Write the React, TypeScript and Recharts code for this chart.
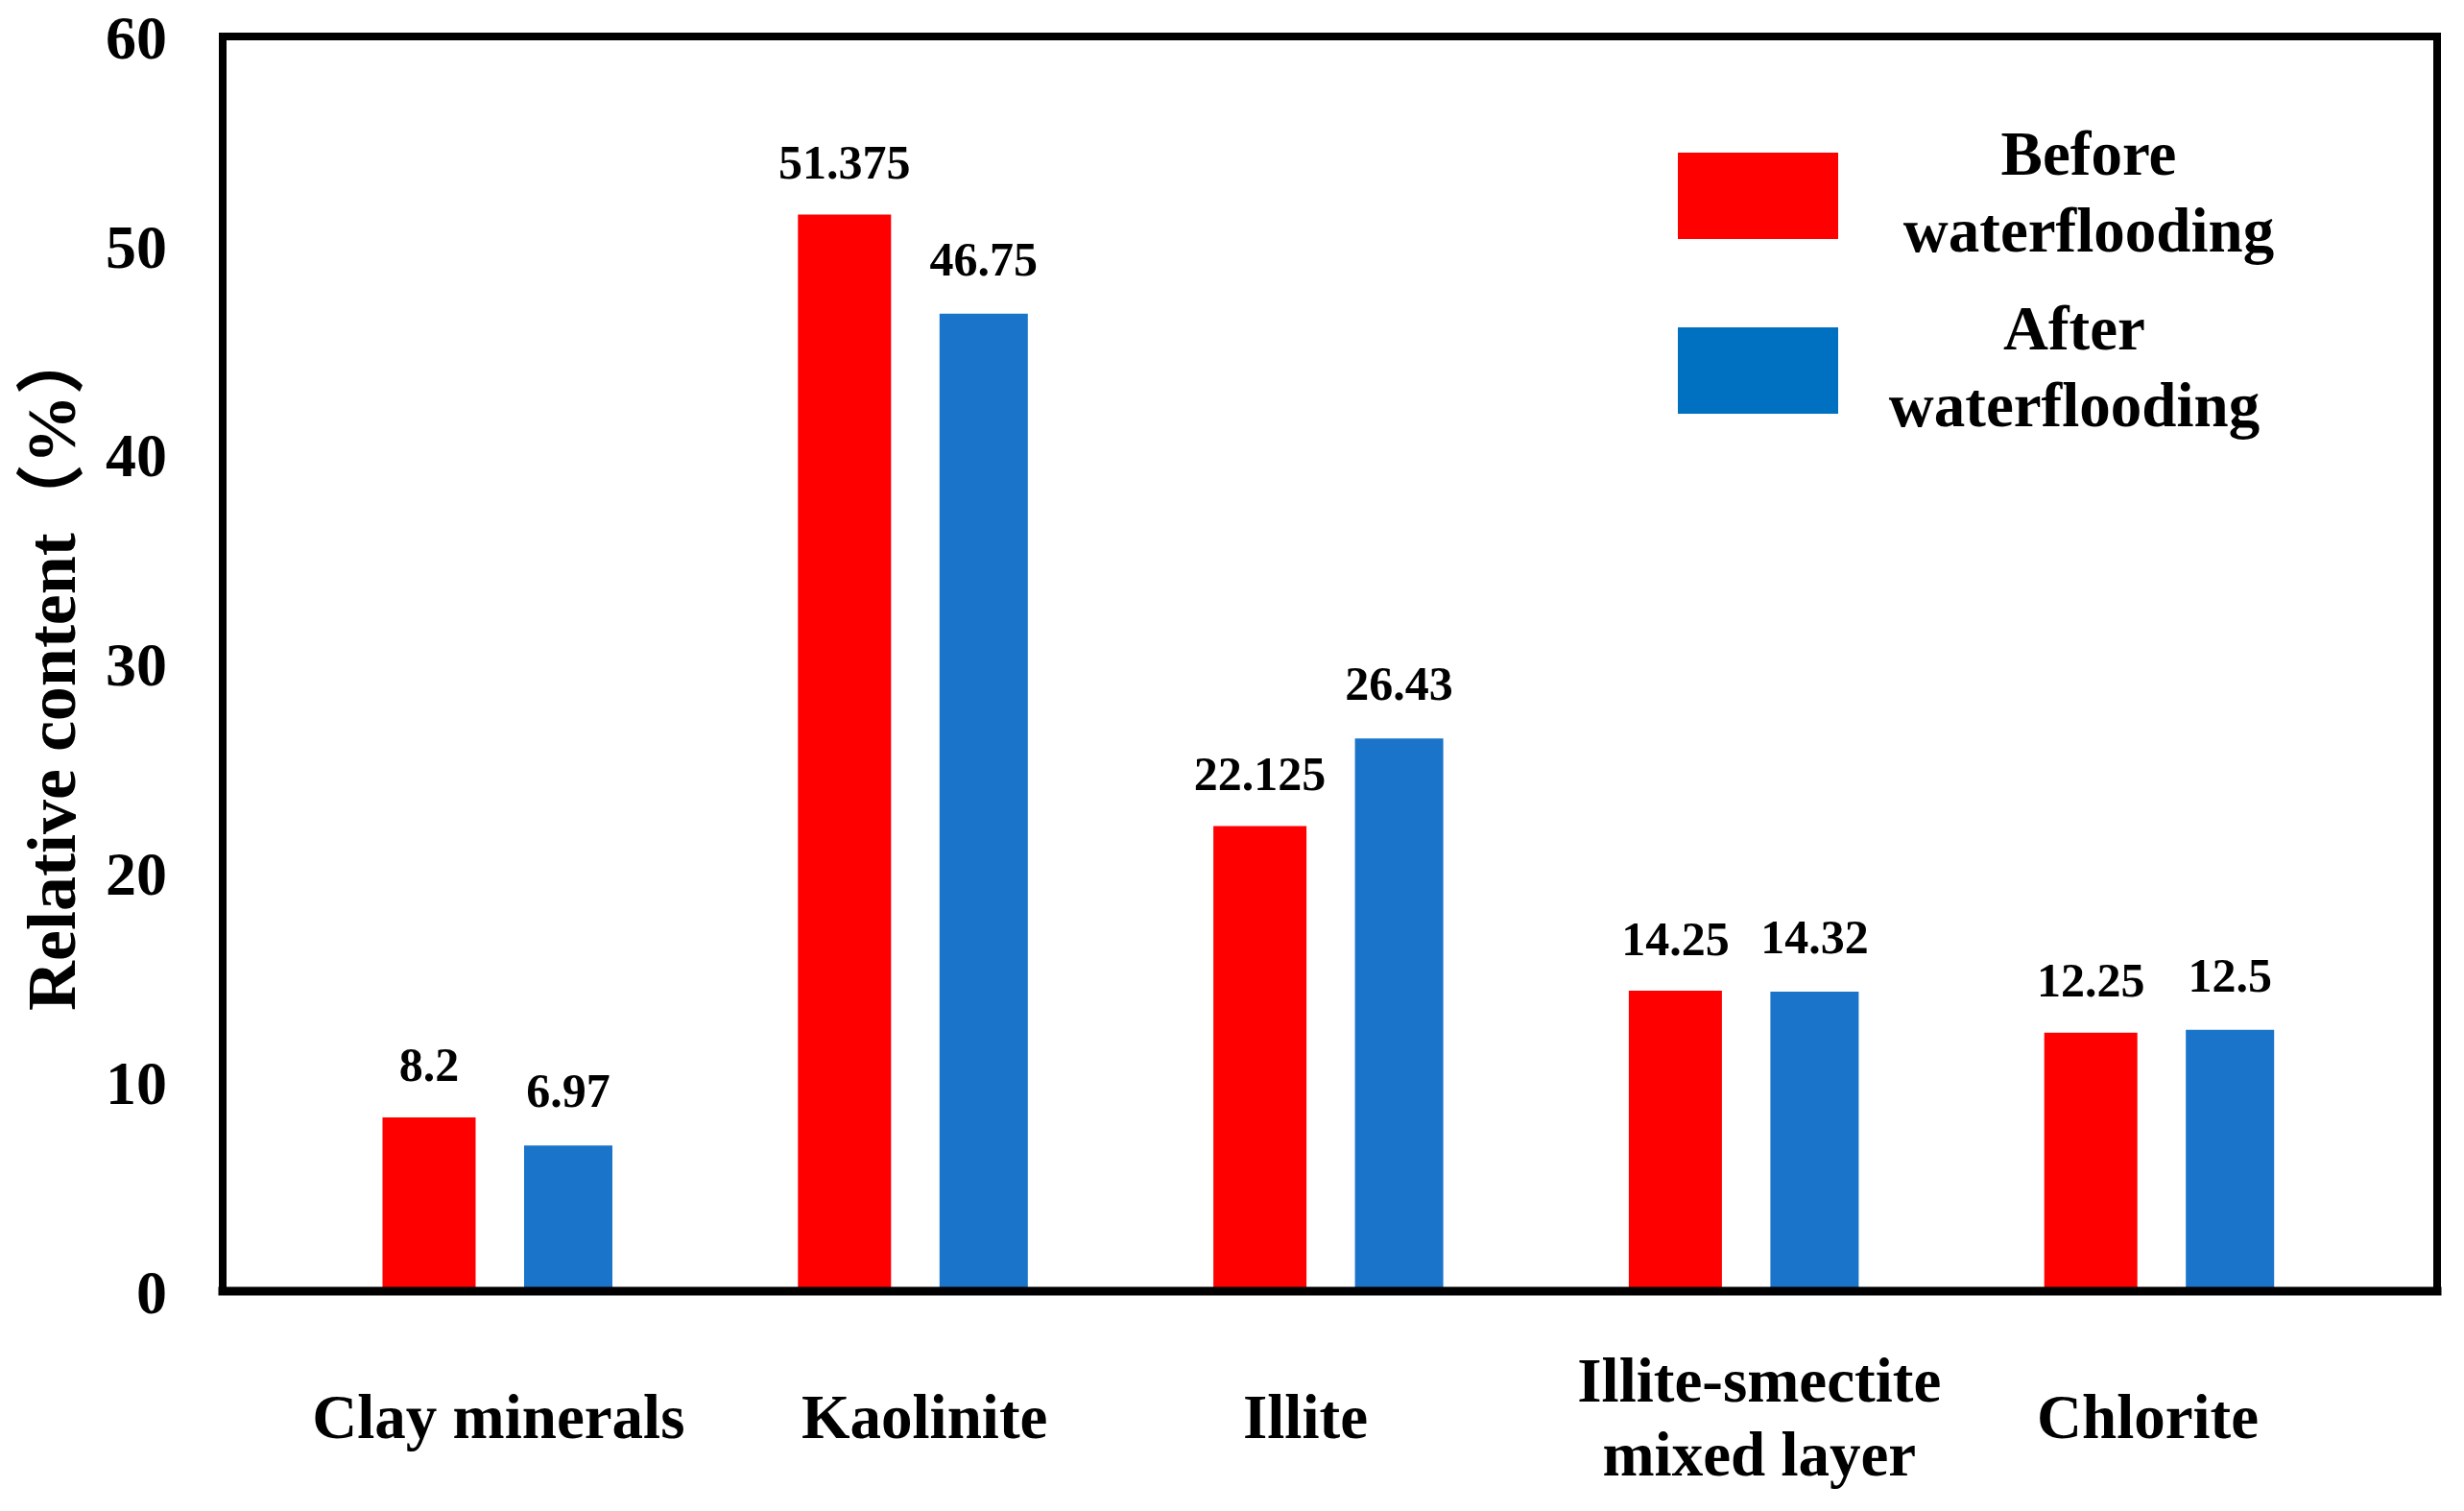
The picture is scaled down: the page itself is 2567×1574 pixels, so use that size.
import React from "react";
import * as Recharts from "recharts";
import { BarChart, Bar, XAxis, YAxis, Legend, LabelList } from "recharts";

// clay mineral relative content, before vs after waterflooding
const categories = ["Clay minerals", "Kaolinite", "Illite", "Illite-smectite\nmixed layer", "Chlorite"];
const beforeValues = [8.2, 51.375, 22.125, 14.25, 12.25];
const afterValues = [6.97, 46.75, 26.43, 14.32, 12.5];
const seriesNames = ["Before\nwaterflooding", "After\nwaterflooding"];
const yTicks = [0, 10, 20, 30, 40, 50, 60];

const RED = "#FF0000";
const BLUE = "#1A74C9";
const LEGEND_COLORS = ["#FF0000", "#0070C0"];
const FONT = "'Times New Roman', 'Liberation Serif', 'Noto Sans CJK SC', serif";

// the original labels were placed by hand, not exactly centred
const TICK_NUDGE = [0, 11, -25, 15, -13];

const data = categories.map((name, i) => ({
  name,
  before: beforeValues[i],
  after: afterValues[i],
}));

function CategoryTick({ x, y, payload, index }: any) {
  const lines = String(payload.value).split("\n");
  const lineHeight = 77;
  const first = 153 - ((lines.length - 1) * lineHeight) / 2;
  const cx = x + (TICK_NUDGE[index] || 0);
  return (
    <text x={cx} y={y} textAnchor="middle" fontFamily={FONT} fontWeight="bold" fontSize={65} fill="#000">
      {lines.map((l, i) => (
        <tspan key={i} x={cx} dy={i === 0 ? first : lineHeight}>
          {l}
        </tspan>
      ))}
    </text>
  );
}

function YTitle() {
  return (
    <text
      transform="translate(78, 1053) rotate(-90)"
      textAnchor="start"
      fontFamily={FONT}
      fontWeight="bold"
      fontSize={72}
      fill="#000"
    >
      Relative content（%）
    </text>
  );
}

// box around the plot area (top and right edges; left/bottom come from the axes)
function Frame() {
  const R: any = Recharts;
  const area = R.usePlotArea ? R.usePlotArea() : null;
  if (!area) return null;
  return (
    <rect
      x={area.x}
      y={area.y}
      width={area.width}
      height={area.height}
      fill="none"
      stroke="#000"
      strokeWidth={8}
      strokeLinejoin="miter"
    />
  );
}

function renderLegend(props: any) {
  const items = [...(props.payload || [])].sort(
    (a: any, b: any) => seriesNames.indexOf(a.value) - seriesNames.indexOf(b.value)
  );
  return (
    <svg width={720} height={380} style={{ overflow: "visible" }}>
      {items.map((item: any, i: number) => {
        const top = i * 182;
        const lines = String(item.value).split("\n");
        return (
          <g key={i}>
            <rect x={8} y={top + 19} width={167} height={90} fill={LEGEND_COLORS[i]} />
            <text textAnchor="middle" fontFamily={FONT} fontWeight="bold" fontSize={65} fill="#000">
              {lines.map((l, j) => (
                <tspan key={j} x={436 - i * 15} y={top + 42 + j * 80}>
                  {l}
                </tspan>
              ))}
            </text>
          </g>
        );
      })}
    </svg>
  );
}

export default function App() {
  const axisLine = { stroke: "#000", strokeWidth: 8, strokeLinecap: "square" as const };
  return (
    <div style={{ position: "absolute", left: 0, top: 0, width: 2567, height: 1574, background: "#fff" }}>
      <BarChart
        width={2567}
        height={1574}
        data={data}
        margin={{ top: 38, right: 28, bottom: 0, left: 0 }}
        barSize={92}
        barGap={53}
      >
        <Frame />
        <XAxis
          dataKey="name"
          height={229}
          padding={{ left: 71, right: 72 }}
          tickLine={false}
          tickSize={0}
          tickMargin={0}
          interval={0}
          tick={<CategoryTick />}
          axisLine={{ ...axisLine, strokeWidth: 9 }}
        />
        <YAxis
          width={232}
          domain={[0, 60]}
          ticks={yTicks}
          tickLine={false}
          tickSize={0}
          tickMargin={58}
          axisLine={axisLine}
          tick={{ fontFamily: FONT, fontWeight: "bold", fontSize: 64, fill: "#000" }}
          label={{ content: () => <YTitle /> }}
        />
        <Legend
          content={renderLegend}
          layout="horizontal"
          verticalAlign="middle"
          align="center"
          wrapperStyle={{ position: "absolute", left: 1740, top: 140, width: 720, height: 380 }}
        />
        <Bar dataKey="before" name={seriesNames[0]} fill={RED} stroke={RED} strokeWidth={5} isAnimationActive={false}>
          <LabelList
            dataKey="before"
            position="top"
            offset={40}
            style={{ fontFamily: FONT, fontWeight: "bold", fontSize: 50, fill: "#000" }}
          />
        </Bar>
        <Bar dataKey="after" name={seriesNames[1]} fill={BLUE} isAnimationActive={false}>
          <LabelList
            dataKey="after"
            position="top"
            offset={40}
            style={{ fontFamily: FONT, fontWeight: "bold", fontSize: 50, fill: "#000" }}
          />
        </Bar>
      </BarChart>
    </div>
  );
}
